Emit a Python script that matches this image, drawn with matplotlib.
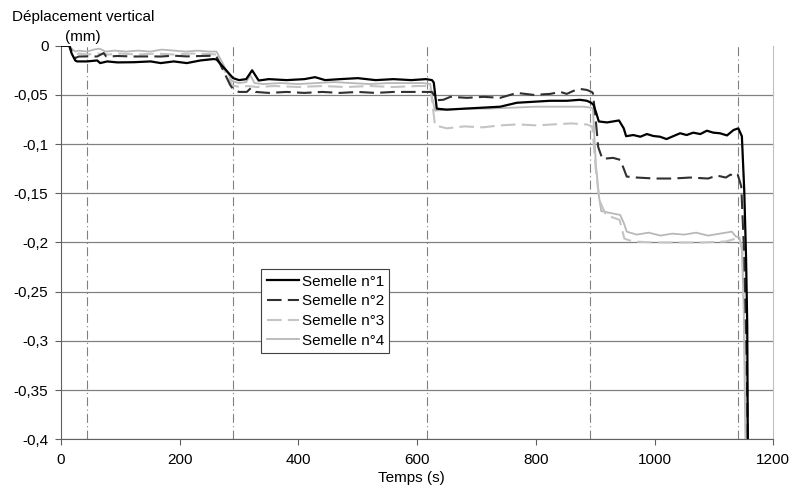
import matplotlib
matplotlib.use("Agg")
import matplotlib.pyplot as plt

plt.rcParams['font.family'] = ['Liberation Sans', 'DejaVu Sans']

# Semelle n°1 (black, solid)
t1 = [0, 14, 18, 24, 27, 44, 61, 66, 78, 95, 123, 151, 168, 190, 212, 235, 257, 262,
      290, 300, 312, 322, 333, 350, 380, 410, 428, 445, 470, 500, 530, 560, 590, 615, 625,
      628, 633, 650, 680, 710, 740, 768, 796, 824, 852, 874, 886, 893, 897, 902, 906, 920,
      940, 948, 952, 964, 976, 987, 998, 1009, 1020, 1032, 1043, 1054, 1065, 1077, 1088,
      1099, 1110, 1122, 1133, 1141, 1147, 1151, 1154, 1156, 1157, 1158]
y1 = [0, 0, -0.008, -0.015, -0.016, -0.016, -0.015, -0.0177, -0.016, -0.017, -0.0168, -0.016,
      -0.0177, -0.016, -0.0177, -0.015, -0.0136, -0.014,
      -0.033, -0.035, -0.034, -0.025, -0.0354, -0.034, -0.035, -0.034, -0.032, -0.035, -0.034,
      -0.033, -0.035, -0.034, -0.035, -0.034, -0.035,
      -0.0375, -0.064, -0.065, -0.064, -0.063, -0.062, -0.058, -0.057, -0.056, -0.056, -0.055,
      -0.056, -0.058, -0.060, -0.069, -0.077, -0.078,
      -0.076, -0.084, -0.092, -0.0908, -0.0925, -0.0898, -0.0918, -0.0925, -0.0949, -0.0918,
      -0.089, -0.0908, -0.0884, -0.0898, -0.0864, -0.0884, -0.089, -0.0912, -0.0857, -0.084,
      -0.092, -0.147, -0.214, -0.282, -0.399, -0.45]

# Semelle n°2 (dark, dashed)
t2 = [0, 14, 18, 24, 30, 44, 61, 72, 76, 80, 95, 123, 151, 168, 190, 212, 235, 257, 262,
      285, 291, 300, 313, 320, 328, 350, 380, 410, 440, 470, 500, 530, 560, 590, 615, 625,
      629, 633, 644, 656, 684, 712, 740, 768, 796, 824, 841, 852, 863, 875, 886, 894, 896,
      900, 905, 912, 930, 942, 948, 953, 970, 1000, 1030, 1060, 1090,
      1105, 1120, 1128, 1133, 1140, 1146, 1151, 1155, 1157, 1158]
y2 = [0, 0, -0.006, -0.0126, -0.011, -0.0109, -0.011, -0.0075, -0.0109, -0.011, -0.0105,
      -0.011, -0.0109, -0.011, -0.0102, -0.0109, -0.0105, -0.0102, -0.011,
      -0.040, -0.045, -0.047, -0.047, -0.043, -0.047, -0.048, -0.047, -0.048, -0.047, -0.048,
      -0.047, -0.048, -0.047, -0.047, -0.047, -0.047,
      -0.051, -0.0554, -0.055, -0.052, -0.053, -0.052, -0.053, -0.048, -0.050, -0.049,
      -0.047, -0.049, -0.046, -0.044, -0.045, -0.047, -0.048,
      -0.070, -0.103, -0.115, -0.114, -0.116, -0.125, -0.133, -0.134, -0.135, -0.135, -0.134,
      -0.135,
      -0.132, -0.134, -0.131, -0.133, -0.131, -0.143, -0.214, -0.316, -0.40, -0.45]

# Semelle n°3 (light grey, dashed)
t3 = [0, 14, 18, 24, 30, 44, 60, 80, 100, 130, 160, 190, 220, 250, 262,
      288, 300, 315, 330, 360, 400, 440, 480, 520, 560, 600, 622,
      626, 630, 650, 680, 710, 740, 770, 800, 830, 860, 885, 895,
      901, 907, 918, 941, 949, 963, 1000, 1040, 1080, 1120, 1137, 1143, 1148, 1152, 1156]
y3 = [0, 0, -0.005, -0.009, -0.008, -0.009, -0.008, -0.009, -0.008, -0.009, -0.008, -0.009,
      -0.008, -0.0085, -0.009,
      -0.040, -0.042, -0.041, -0.042, -0.041, -0.042, -0.041, -0.042, -0.041, -0.042, -0.041,
      -0.041,
      -0.060, -0.081, -0.084, -0.082, -0.083, -0.081, -0.080, -0.081, -0.080, -0.079, -0.080,
      -0.082,
      -0.126, -0.157, -0.172, -0.177, -0.196, -0.199, -0.200, -0.200, -0.200, -0.199, -0.196,
      -0.199, -0.205, -0.300, -0.45]

# Semelle n°4 (light grey, solid)
t4 = [0, 14, 18, 24, 30, 44, 55, 65, 75, 90, 110, 130, 150, 170, 190, 210, 230, 250, 262,
      288, 300, 312, 319, 326, 340, 370, 400, 430, 460, 490, 520, 550, 580, 610, 622,
      626, 630, 650, 680, 720, 760, 800, 840, 880, 893,
      896, 901, 906, 910, 925, 942, 948, 953, 970, 990, 1010, 1030, 1050, 1070, 1090, 1110,
      1130, 1137, 1143, 1147, 1150, 1154]
y4 = [0, 0, -0.003, -0.006, -0.005, -0.006, -0.004, -0.003, -0.006, -0.005, -0.006, -0.005,
      -0.006, -0.004, -0.005, -0.006, -0.005, -0.006, -0.006,
      -0.036, -0.038, -0.037, -0.030, -0.038, -0.039, -0.038, -0.039, -0.038, -0.037, -0.038,
      -0.039, -0.038, -0.038, -0.038, -0.039,
      -0.055, -0.066, -0.065, -0.064, -0.064, -0.063, -0.062, -0.062, -0.062, -0.063,
      -0.064, -0.120, -0.152, -0.168, -0.170, -0.172, -0.180, -0.189, -0.192, -0.190, -0.193,
      -0.191, -0.192, -0.190, -0.193, -0.191, -0.189, -0.194, -0.195, -0.208, -0.265, -0.45]

labels = ['Semelle n°1', 'Semelle n°2', 'Semelle n°3', 'Semelle n°4']
events = [43, 290, 617, 892, 1141]   # vertical dash-dot markers
yticks = [0, -0.05, -0.1, -0.15, -0.2, -0.25, -0.3, -0.35, -0.4]
yticklabels = ['0', '-0,05', '-0,1', '-0,15', '-0,2', '-0,25', '-0,3', '-0,35', '-0,4']
xticks = [0, 200, 400, 600, 800, 1000, 1200]

fig = plt.figure(figsize=(7.9, 4.88), dpi=100)
ax = fig.add_axes([0.0772, 0.0998, 0.9017, 0.8066])

ax.plot(t4, y4, color='#b8b8b8', lw=1.3, label=labels[3], zorder=3)
ax.plot(t3, y3, color='#c4c4c4', lw=1.5, ls=(0, (7, 3)), label=labels[2], zorder=3)
ax.plot(t2, y2, color='#303030', lw=1.5, ls=(0, (7, 3)), label=labels[1], zorder=4)
ax.plot(t1, y1, color='black', lw=1.6, label=labels[0], zorder=5)

for ev in events:
    ax.axvline(ev, color='#808080', lw=0.8, ls=(0, (8, 3, 1, 3)), zorder=2)

ax.set_xlim(0, 1200)
ax.set_ylim(-0.4, 0)
ax.set_xticks(xticks)
ax.set_yticks(yticks)
ax.set_yticklabels(yticklabels)
ax.tick_params(axis='both', labelsize=11, length=4, color='#606060', direction='out')
ax.tick_params(axis='x', pad=6)
ax.tick_params(axis='y', pad=5)

ax.grid(axis='y', color='#808080', lw=0.9, zorder=1)
ax.get_ygridlines()[0].set_visible(False)
ax.set_axisbelow(True)

ax.spines['top'].set_visible(False)
ax.spines['right'].set_color('#c0c0c0')
ax.spines['left'].set_color('#606060')
ax.spines['bottom'].set_color('#606060')

handles, labs = ax.get_legend_handles_labels()
order = [3, 2, 1, 0]
leg = ax.legend([handles[i] for i in order], [labs[i] for i in order],
                loc='lower left', bbox_to_anchor=(0.281, 0.219), borderaxespad=0,
                fontsize=11, handlelength=2.15, handletextpad=0.15, labelspacing=0.37,
                borderpad=0.35, fancybox=False, framealpha=1, edgecolor='#404040')
leg.get_frame().set_linewidth(0.8)
leg.set_zorder(10)

fig.text(83 / 790, 1 - 17 / 488, 'Déplacement vertical', ha='center', va='center', fontsize=11)
fig.text(83 / 790, 1 - 37 / 488, '(mm)', ha='center', va='center', fontsize=11)
fig.text(411.7 / 790, 1 - 477.7 / 488, 'Temps (s)', ha='center', va='center', fontsize=11)

fig.savefig('out.png', dpi=100)
